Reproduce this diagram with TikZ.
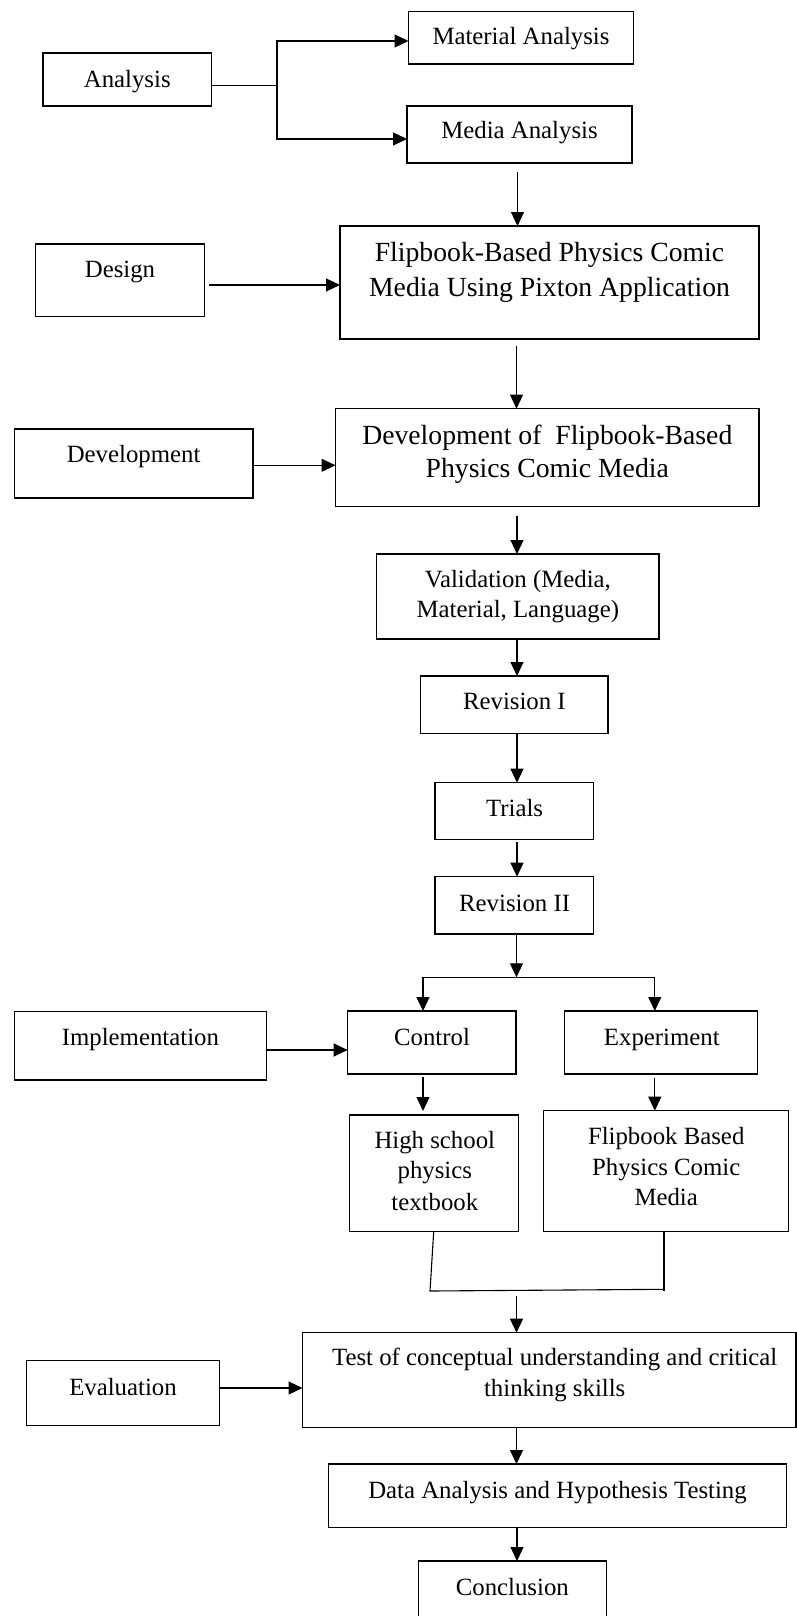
\documentclass[tikz,border=0pt]{standalone}
\usepackage{fontspec}
\setmainfont{Liberation Serif}
\usetikzlibrary{arrows.meta,calc}
\tikzset{
  box/.style={draw=black, line width=1.3pt, inner sep=0pt, outer sep=0pt, rectangle},
  ts/.style={inner sep=0pt, anchor=base, font=\fontsize{24.8}{30}\selectfont},
  tb/.style={inner sep=0pt, anchor=base, font=\fontsize{27.7}{34}\selectfont},
  ln/.style={line width=1.1pt, draw=black},
  arr/.style={line width=1.1pt, draw=black, -{Triangle[length=14pt,width=13pt]}},
}
\begin{document}
\begin{tikzpicture}[x=1pt,y=-1pt]
\useasboundingbox (0,0) rectangle (797,1616);
\clip (0,0) rectangle (797,1616);
% boxes
\node[box, minimum width=168.5, minimum height=53] (analysis) at (127.25,79.5) {};
\node[box, minimum width=225, minimum height=52.5] (matanal) at (521,37.75) {};
\node[box, minimum width=225, minimum height=57] (medanal) at (519.5,134.5) {};
\node[box, minimum width=168.8, minimum height=72.7] (design) at (120,280.35) {};
\node[box, minimum width=419, minimum height=113] (flipdesign) at (549.5,282.5) {};
\node[box, minimum width=238.8, minimum height=69] (develop) at (133.6,463.5) {};
\node[box, minimum width=423.5, minimum height=98] (devbox) at (547.25,457.7) {};
\node[box, minimum width=282.3, minimum height=85] (valid) at (517.85,596.5) {};
\node[box, minimum width=187.6, minimum height=57.3] (rev1) at (514.2,704.65) {};
\node[box, minimum width=158.8, minimum height=56.6] (trials) at (514.4,811) {};
\node[box, minimum width=158.8, minimum height=57.3] (rev2) at (514.4,905.35) {};
\node[box, minimum width=252.2, minimum height=68.3] (impl) at (140.3,1045.85) {};
\node[box, minimum width=168.3, minimum height=63] (control) at (431.85,1042.5) {};
\node[box, minimum width=192.7, minimum height=63] (experiment) at (661.15,1042.5) {};
\node[box, minimum width=168.8, minimum height=116.7] (hs) at (434.2,1173.35) {};
\node[box, minimum width=245.2, minimum height=121] (fbm) at (666.1,1171.2) {};
\node[box, minimum width=193.2, minimum height=64.6] (evaluation) at (123,1393) {};
\node[box, minimum width=493.5, minimum height=94.6] (test) at (549.25,1380) {};
\node[box, minimum width=458.1, minimum height=63.7] (data) at (557.45,1495.85) {};
\node[box, minimum width=188.4, minimum height=79] (concl) at (512.5,1600.5) {};
% texts
\node[ts] (tanalysis) at (127.25,87.3) {Analysis};
\node[ts] (tmatanal) at (521,44.3) {Material Analysis};
\node[ts] (tmedanal) at (519.5,138.3) {Media Analysis};
\node[ts] (tdesign) at (120,277.7) {Design};
\node[tb] (tflip1) at (549.5,261.7) {Flipbook-Based Physics Comic};
\node[tb] (tflip2) at (549.5,296) {Media Using Pixton Application};
\node[ts] (tdevelop) at (133.6,462.7) {Development};
\node[tb] (tdev1) at (547.3,444) {Development of\ \ Flipbook-Based};
\node[tb] (tdev2) at (547.3,477.3) {Physics Comic Media};
\node[ts] (tvalid1) at (517.85,587.3) {Validation (Media,};
\node[ts] (tvalid2) at (517.85,617.7) {Material, Language)};
\node[ts] (trev1) at (514.4,709.3) {Revision I};
\node[ts] (ttrials) at (514.6,816.7) {Trials};
\node[ts] (trev2) at (514.6,911) {Revision II};
\node[ts] (timpl) at (140.4,1045) {Implementation};
\node[ts] (tcontrol) at (432,1045) {Control};
\node[ts] (texperiment) at (661.8,1045) {Experiment};
\node[ts] (ths1) at (434.8,1148.3) {High school};
\node[ts] (ths2) at (434.8,1178.3) {physics};
\node[ts] (ths3) at (434.8,1210.7) {textbook};
\node[ts] (tfbm1) at (666.2,1144.3) {Flipbook Based};
\node[ts] (tfbm2) at (666.2,1175) {Physics Comic};
\node[ts] (tfbm3) at (666.2,1205) {Media};
\node[ts] (tevaluation) at (123,1395) {Evaluation};
\node[ts] (ttest1) at (554.7,1365) {Test of conceptual understanding and critical};
\node[ts] (ttest2) at (554.7,1396.7) {thinking skills};
\node[ts] (tdata) at (557.5,1498.3) {Data Analysis and Hypothesis Testing};
\node[ts] (tconcl) at (512.3,1595) {Conclusion};
% connectors
\coordinate (br) at (277,85.7);
\coordinate (bt) at (277,41);
\coordinate (bb) at (277,139);
\draw[ln] (analysis.east |- br) -- (br);
\draw[arr] (br) -- (bt) -- (matanal.west |- bt);
\draw[arr] (br) -- (bb) -- (medanal.west |- bb);
\draw[arr] ($(517.5,0 |- medanal.south)+(0,9)$) -- (517.5,0 |- flipdesign.north);
\draw[arr] ($(design.east |- 0,285)+(5,0)$) -- (flipdesign.west |- 0,285);
\draw[arr] ($(516.5,0 |- flipdesign.south)+(0,7)$) -- (516.5,0 |- devbox.north);
\draw[arr] (develop.east |- 0,465.3) -- (devbox.west |- 0,465.3);
\draw[arr] ($(517,0 |- devbox.south)+(0,9)$) -- (517,0 |- valid.north);
\draw[arr] (517,0 |- valid.south) -- (517,0 |- rev1.north);
\draw[arr] (517,0 |- rev1.south) -- (517,0 |- trials.north);
\draw[arr] ($(517,0 |- trials.south)+(0,3)$) -- (517,0 |- rev2.north);
\coordinate (sp) at (516.5,977.3);
\coordinate (spl) at (423,977.3);
\coordinate (spr) at (654.8,977.3);
\draw[arr] (516.5,0 |- rev2.south) -- (sp);
\draw[ln] (spl) -- (spr);
\draw[arr] (spl) -- (spl |- control.north);
\draw[arr] (spr) -- (spr |- experiment.north);
\draw[arr] (impl.east |- 0,1050) -- (control.west |- 0,1050);
\draw[arr] ($(423,0 |- control.south)+(0,3)$) -- ($(423,0 |- hs.north)+(0,-4)$);
\draw[arr] ($(654.8,0 |- experiment.south)+(0,4)$) -- (654.8,0 |- fbm.north);
\coordinate (jl) at (430,1291);
\coordinate (jr) at (664,1289.3);
\draw[ln] (433.7,0 |- hs.south) -- (jl) -- (jr);
\draw[ln] (664,0 |- fbm.south) -- (664,1291);
\coordinate (jm) at (516.5,1295.7);
\draw[arr] (jm) -- (516.5,0 |- test.north);
\draw[arr] (evaluation.east |- 0,1388) -- (test.west |- 0,1388);
\draw[arr] (516.5,0 |- test.south) -- (516.5,0 |- data.north);
\draw[arr] (517,0 |- data.south) -- (517,0 |- concl.north);
\end{tikzpicture}
\end{document}
